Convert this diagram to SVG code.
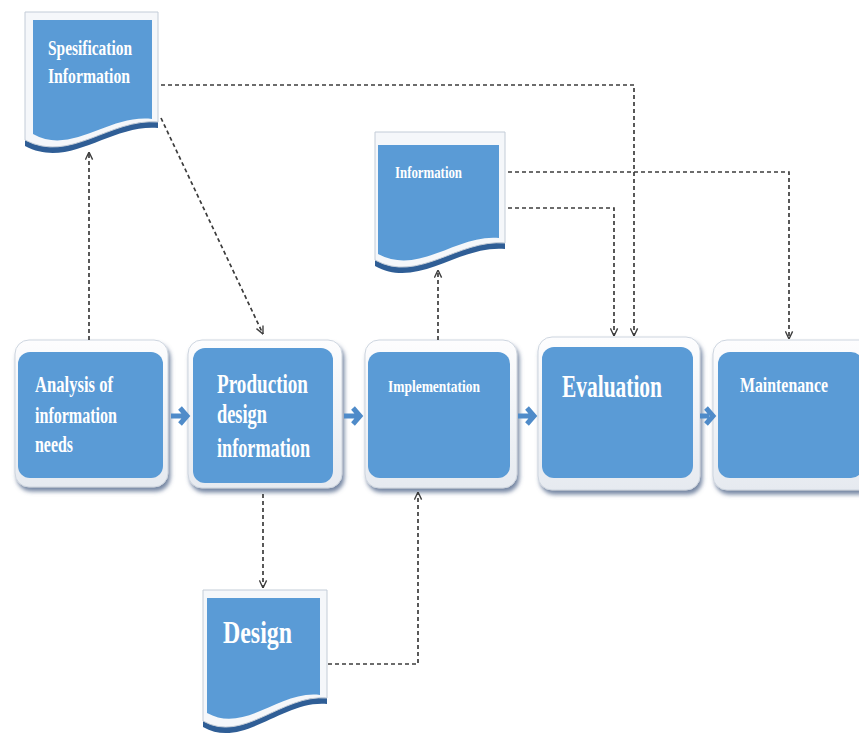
<svg xmlns="http://www.w3.org/2000/svg" width="859" height="735" viewBox="0 0 859 735">
<style>
.frame{fill:url(#fg);stroke:#cdd5df;stroke-width:1}
.blue{fill:#5a9bd6}
.dark{fill:#2f5e96}
.paper{fill:#f5f7fa;stroke:#c3ccd7;stroke-width:1}
.lbl{font-family:"Liberation Serif","Times New Roman",serif;font-weight:bold;fill:#ffffff}
.dash{fill:none;stroke:#3c3c3c;stroke-width:1.7;stroke-dasharray:4 3}
.chev{fill:none;stroke:#4f8bc9;stroke-width:5;stroke-linejoin:miter}
</style>
<defs>
<linearGradient id="fg" x1="0" y1="0" x2="0" y2="1">
<stop offset="0" stop-color="#fdfdfe"/>
<stop offset="1" stop-color="#e6eaf0"/>
</linearGradient>
<filter id="sh" x="-10%" y="-10%" width="125%" height="125%">
<feDropShadow dx="2" dy="4" stdDeviation="2" flood-color="#54698c" flood-opacity="0.8"/>
</filter>
<marker id="ah" viewBox="0 0 10 10" refX="9.5" refY="5" markerWidth="9" markerHeight="9" markerUnits="userSpaceOnUse" orient="auto">
<path d="M1,1 L9.5,5 L1,9" fill="none" stroke="#3c3c3c" stroke-width="1.5"/>
</marker>
</defs>
<rect width="859" height="735" fill="#ffffff"/>

<g id="spec-doc">
<path class="dark" d="M25,12 H158 V128 C110,124 70,170 25,146 Z"/>
<path class="paper" d="M25,12 H158 V122 C110,118 70,164 25,140 Z"/>
<path class="blue" d="M33,20 H152 V119 C108,114 72,156 33,134 Z"/>
<text class="lbl" x="48" y="55" font-size="20" textLength="84" lengthAdjust="spacingAndGlyphs">Spesification</text>
<text class="lbl" x="48" y="83" font-size="20" textLength="82" lengthAdjust="spacingAndGlyphs">Information</text>
</g>

<g id="info-doc">
<path class="dark" d="M375,134 H505 V249 C458,245 418,290 375,266 Z"/>
<path class="paper" d="M375,132 H505 V243 C458,239 418,284 375,260 Z"/>
<path class="blue" d="M378,145 H499 V238 C456,234 420,276 378,254 Z"/>
<text class="lbl" x="395" y="178" font-size="16" textLength="67" lengthAdjust="spacingAndGlyphs">Information</text>
</g>

<g id="design-doc">
<path class="dark" d="M203,592 H327 V704 C282,700 243,750 203,727 Z"/>
<path class="paper" d="M203,590 H327 V698 C282,694 243,744 203,721 Z"/>
<path class="blue" d="M207,598 H320 V695 C280,690 245,734 207,713 Z"/>
<text class="lbl" x="223" y="643" font-size="32" textLength="69" lengthAdjust="spacingAndGlyphs">Design</text>
</g>

<g id="analysis">
<rect class="frame" filter="url(#sh)" x="15" y="340" width="153" height="147" rx="14"/>
<rect class="blue" x="18" y="352" width="145" height="126" rx="12"/>
<text class="lbl" x="35" y="392" font-size="24" textLength="78" lengthAdjust="spacingAndGlyphs">Analysis of</text>
<text class="lbl" x="35" y="423" font-size="24" textLength="82" lengthAdjust="spacingAndGlyphs">information</text>
<text class="lbl" x="35" y="452" font-size="24" textLength="38" lengthAdjust="spacingAndGlyphs">needs</text>
</g>

<g id="production">
<rect class="frame" filter="url(#sh)" x="188" y="340" width="154" height="148" rx="14"/>
<rect class="blue" x="193" y="348" width="140" height="135" rx="12"/>
<text class="lbl" x="217" y="393" font-size="27" textLength="91" lengthAdjust="spacingAndGlyphs">Production</text>
<text class="lbl" x="217" y="423" font-size="27" textLength="50" lengthAdjust="spacingAndGlyphs">design</text>
<text class="lbl" x="217" y="457" font-size="27" textLength="93" lengthAdjust="spacingAndGlyphs">information</text>
</g>

<g id="implementation">
<rect class="frame" filter="url(#sh)" x="365" y="340" width="152" height="148" rx="14"/>
<rect class="blue" x="368" y="352" width="142" height="126" rx="12"/>
<text class="lbl" x="388" y="392" font-size="17" textLength="92" lengthAdjust="spacingAndGlyphs">Implementation</text>
</g>

<g id="evaluation">
<rect class="frame" filter="url(#sh)" x="538" y="337" width="162" height="153" rx="14"/>
<rect class="blue" x="542" y="347" width="151" height="131" rx="12"/>
<text class="lbl" x="562" y="397" font-size="32" textLength="100" lengthAdjust="spacingAndGlyphs">Evaluation</text>
</g>

<g id="maintenance">
<rect class="frame" filter="url(#sh)" x="713" y="340" width="160" height="150" rx="14"/>
<rect class="blue" x="718" y="352" width="145" height="126" rx="12"/>
<text class="lbl" x="740" y="392" font-size="21" textLength="88" lengthAdjust="spacingAndGlyphs">Maintenance</text>
</g>

<g id="connectors">
<path class="chev" d="M171,416 H184 M180,408 L187,416 L180,424"/>
<path class="chev" d="M344,416 H357 M353,408 L360,416 L353,424"/>
<path class="chev" d="M518,416 H531 M527,408 L534,416 L527,424"/>
<path class="chev" d="M700,416 H709 M706,408 L713,416 L706,424"/>
<path class="dash" marker-end="url(#ah)" d="M89,340 V152"/>
<path class="dash" marker-end="url(#ah)" d="M161,118 L263,334"/>
<path class="dash" marker-end="url(#ah)" d="M161,85 H634 V336"/>
<path class="dash" marker-end="url(#ah)" d="M508,172 H789 V339"/>
<path class="dash" marker-end="url(#ah)" d="M508,208 H614 V336"/>
<path class="dash" marker-end="url(#ah)" d="M438,340 V270"/>
<path class="dash" marker-end="url(#ah)" d="M263,494 V588"/>
<path class="dash" marker-end="url(#ah)" d="M328,664 H418 V492"/>
</g>
</svg>
